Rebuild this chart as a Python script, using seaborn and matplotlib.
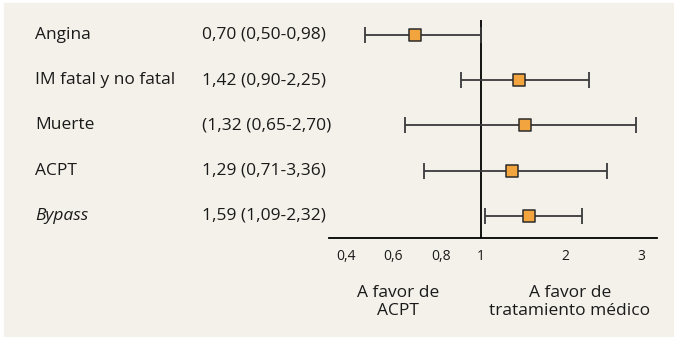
import numpy as np
import pandas as pd
import matplotlib
matplotlib.use("Agg")
import matplotlib.pyplot as plt
import matplotlib.transforms as mtransforms
from matplotlib.patches import Rectangle
from matplotlib.ticker import FixedLocator, FixedFormatter
import seaborn as sns

# ===== Data =====
outcomes = ["Angina", "IM fatal y no fatal", "Muerte", "ACPT", "Bypass"]
ci_labels = ["0,70 (0,50-0,98)", "1,42 (0,90-2,25)", "(1,32 (0,65-2,70)",
             "1,29 (0,71-3,36)", "1,59 (1,09-2,32)"]
# values as drawn in the picture
estimate = [0.69, 1.45, 1.52, 1.37, 1.575]
lower = [0.48, 0.90, 0.65, 0.73, 1.05]
upper = [1.00, 2.31, 2.94, 2.55, 2.22]
tick_values = [0.4, 0.6, 0.8, 1, 2, 3]
tick_labels = ["0,4", "0,6", "0,8", "1", "2", "3"]

df = pd.DataFrame({"outcome": outcomes, "est": estimate, "lo": lower, "hi": upper})
df["row"] = np.arange(len(df))

# ===== Style =====
sns.set_theme(style="white")
plt.rcParams["font.family"] = ["Open Sans", "DejaVu Sans"]

W, H = 674, 337
fig = plt.figure(figsize=(W / 100, H / 100), dpi=100)
fig.patch.set_facecolor("white")
bg = "#f4f1ea"
fig.patches.append(Rectangle((4 / W, 0), 1 - 4 / W, 1 - 3 / H,
                             transform=fig.transFigure, color=bg, zorder=-10))

# axes spanning pixel x 329..657, y 15..238
ax = fig.add_axes([329 / W, 1 - 238 / H, (657 - 329) / W, (238 - 15) / H])
ax.set_facecolor("none")
ax.set_zorder(1)

# piecewise scale as in the original drawing
knot_v = np.array([0.2, 0.4, 0.6, 0.8, 1.0, 2.0, 3.0, 4.0])
knot_p = np.array([252, 346, 393, 441, 481, 565, 641, 717], dtype=float)


def fwd(x):
    return np.interp(x, knot_v, knot_p)


def inv(p):
    return np.interp(p, knot_p, knot_v)


ax.set_xscale("function", functions=(fwd, inv))
ax.set_xlim(inv(329), inv(657))
row_px = 45.25
ax.set_ylim((238 - 35) / row_px, (15 - 35) / row_px)

# reference line at 1
ax.vlines(1, (20 - 35) / row_px, (238 - 35) / row_px, color="black", lw=1.3, zorder=2)

# confidence intervals
ax.errorbar(df["est"], df["row"],
            xerr=[df["est"] - df["lo"], df["hi"] - df["est"]],
            fmt="none", ecolor="#3a3a3a", elinewidth=1.3, capsize=5.5,
            capthick=1.3, zorder=3)
sns.scatterplot(data=df, x="est", y="row", marker="s", s=70,
                color="#f2a53e", edgecolor="#2b2b2b", linewidth=1.1,
                ax=ax, zorder=4, legend=False)

# axes decoration
for side in ["left", "top", "right"]:
    ax.spines[side].set_visible(False)
ax.spines["bottom"].set_color("black")
ax.spines["bottom"].set_linewidth(1.3)
ax.set_yticks([])
ax.xaxis.set_major_locator(FixedLocator(tick_values))
ax.xaxis.set_major_formatter(FixedFormatter(tick_labels))
ax.xaxis.set_minor_locator(FixedLocator([]))
ax.tick_params(axis="x", length=0, pad=8, labelsize=10, labelcolor="#1a1a1a")
ax.set_xlabel("")
ax.set_ylabel("")

# left columns
trans = mtransforms.blended_transform_factory(fig.transFigure, ax.transData)
for i, (name, ci) in enumerate(zip(outcomes, ci_labels)):
    style = "italic" if name == "Bypass" else "normal"
    ax.text(35 / W, i, name, transform=trans, ha="left", va="center",
            fontsize=12.5, style=style, color="#1a1a1a", clip_on=False)
    ax.text(202 / W, i, ci, transform=trans, ha="left", va="center",
            fontsize=12.5, color="#1a1a1a", clip_on=False)

# favour labels
fig.text(398 / W, 1 - 302 / H, "A favor de\nACPT", ha="center", va="center",
         fontsize=12.5, linespacing=1.2, color="#1a1a1a")
fig.text(570 / W, 1 - 302 / H, "A favor de\ntratamiento médico", ha="center",
         va="center", fontsize=12.5, linespacing=1.2, color="#1a1a1a")

fig.savefig("out.png", dpi=100)
plt.close(fig)
